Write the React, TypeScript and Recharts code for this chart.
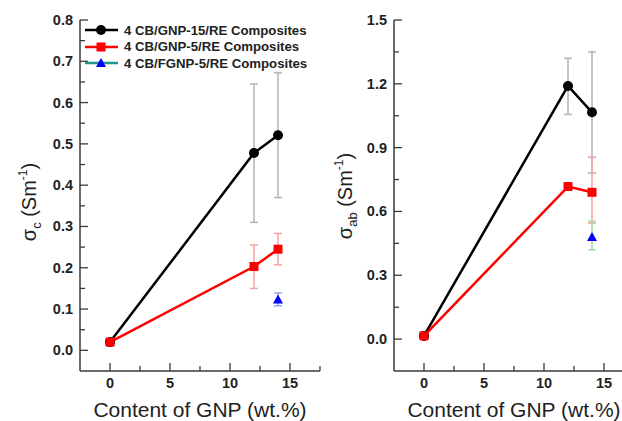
import React from 'react';
import { LineChart, Line, XAxis, YAxis, ErrorBar, Legend } from 'recharts';

// x positions (GNP content, wt.%)
const gnpContent = [0, 12, 14];
const fgnpContent = [14];

// left panel: sigma_c (S/m)
const sigmaC_GNP15 = [0.02, 0.478, 0.521];
const sigmaC_GNP15_low = [0.02, 0.31, 0.37];
const sigmaC_GNP15_high = [0.02, 0.645, 0.672];
const sigmaC_GNP5 = [0.02, 0.203, 0.245];
const sigmaC_GNP5_low = [0.02, 0.15, 0.207];
const sigmaC_GNP5_high = [0.02, 0.255, 0.283];
const sigmaC_FGNP5 = [0.123];
const sigmaC_FGNP5_low = [0.108];
const sigmaC_FGNP5_high = [0.139];

// right panel: sigma_ab (S/m)
const sigmaAb_GNP15 = [0.015, 1.19, 1.066];
const sigmaAb_GNP15_low = [0.015, 1.056, 0.78];
const sigmaAb_GNP15_high = [0.015, 1.32, 1.35];
const sigmaAb_GNP5 = [0.015, 0.717, 0.69];
const sigmaAb_GNP5_low = [0.015, 0.708, 0.545];
const sigmaAb_GNP5_high = [0.015, 0.726, 0.855];
const sigmaAb_FGNP5 = [0.48];
const sigmaAb_FGNP5_low = [0.42];
const sigmaAb_FGNP5_high = [0.553];

// ticks
const xTicks = [0, 2.5, 5, 7.5, 10, 12.5, 15, 17.5];
const xTickLabels = [0, 5, 10, 15];
const leftYTicks = [0, 0.05, 0.1, 0.15, 0.2, 0.25, 0.3, 0.35, 0.4, 0.45, 0.5, 0.55, 0.6, 0.65, 0.7, 0.75, 0.8];
const leftYTickLabels = [0, 0.1, 0.2, 0.3, 0.4, 0.5, 0.6, 0.7, 0.8];
const rightYTicks = [0, 0.15, 0.3, 0.45, 0.6, 0.75, 0.9, 1.05, 1.2, 1.35, 1.5];
const rightYTickLabels = [0, 0.3, 0.6, 0.9, 1.2, 1.5];

const seriesNames = ['4 CB/GNP-15/RE Composites', '4 CB/GNP-5/RE Composites', '4 CB/FGNP-5/RE Composites'];

const FONT = '"Liberation Sans", Arial, Helvetica, sans-serif';
const AXIS = '#3a3a3a';

const toRows = (xs: number[], ys: number[], lo: number[], hi: number[]) =>
    xs.map((x, i) => ({ x, y: ys[i], err: [ys[i] - lo[i], hi[i] - ys[i]] }));

const isLabel = (labels: number[], v: number) => labels.some(l => Math.abs(l - v) < 1e-9);

const circleDot = (p: any) => <circle key={p.key} cx={p.cx} cy={p.cy} r={5} fill="#000" />;
const squareDot = (p: any) => <rect key={p.key} x={p.cx - 4.5} y={p.cy - 4.5} width={9} height={9} fill="#ff0000" />;
const triangleDot = (p: any) => (
    <polygon key={p.key} points={`${p.cx},${p.cy - 5} ${p.cx - 5},${p.cy + 4} ${p.cx + 5},${p.cy + 4}`} fill="#0000ff" />
);

const makeYTick = (labels: number[]) => (props: any) => {
    const { x, y, payload } = props;
    const major = isLabel(labels, payload.value);
    return (
        <g>
            <line x1={x} x2={x + (major ? 8 : 5)} y1={y} y2={y} stroke={AXIS} strokeWidth={1.3} />
            {major && (
                <text x={x - 7} y={y} dy={5} textAnchor="end" fontSize={14.5} fontWeight="bold" fill="#222" fontFamily={FONT}>
                    {payload.value.toFixed(1)}
                </text>
            )}
        </g>
    );
};

const XTick = (props: any) => {
    const { x, y, payload } = props;
    const major = isLabel(xTickLabels, payload.value);
    return (
        <g>
            <line x1={x} x2={x} y1={y} y2={y - (major ? 8 : 5)} stroke={AXIS} strokeWidth={1.3} />
            {major && (
                <text x={x} y={y + 17} textAnchor="middle" fontSize={14.5} fontWeight="bold" fill="#222" fontFamily={FONT}>
                    {payload.value}
                </text>
            )}
        </g>
    );
};

const LegendBox = () => {
    const icons = [
        { stroke: '#000', dot: <circle cx={16} cy={6} r={5} fill="#000" /> },
        { stroke: '#ff0000', dot: <rect x={11.5} y={1.5} width={9} height={9} fill="#ff0000" /> },
        { stroke: '#1f9585', dot: <polygon points="16,1 11,10 21,10" fill="#0000ff" /> },
    ];
    return (
        <div style={{ fontFamily: FONT }}>
            {seriesNames.map((name, i) => (
                <div key={name} style={{ display: 'flex', alignItems: 'center', height: 16.5 }}>
                    <svg width={33} height={12} style={{ display: 'block' }}>
                        <line x1={0} x2={33} y1={6} y2={6} stroke={icons[i].stroke} strokeWidth={2.5} />
                        {icons[i].dot}
                    </svg>
                    <span style={{ marginLeft: 6, fontSize: 13.2, fontWeight: 'bold', color: '#222', whiteSpace: 'nowrap' }}>{name}</span>
                </div>
            ))}
        </div>
    );
};

const xTitle = (cx: number) => () => (
    <text x={cx} y={417} textAnchor="middle" fontSize={21} fill="#222" fontFamily={FONT}>
        Content of GNP (wt.%)
    </text>
);

const yTitle = (sub: string, cx: number, cy: number) => () => (
    <text x={cx} y={cy} transform={`rotate(-90, ${cx}, ${cy})`} textAnchor="middle" fontSize={20} fill="#222" fontFamily={FONT}>
        <tspan>σ</tspan>
        <tspan fontSize={13} dy={5}>{sub}</tspan>
        <tspan dy={-5}> (Sm</tspan>
        <tspan fontSize={12} dy={-9}>-1</tspan>
        <tspan dy={9}>)</tspan>
    </text>
);

type PanelProps = {
    left: number;
    yDomain: [number, number];
    yTicks: number[];
    yLabels: number[];
    s15: any[];
    s5: any[];
    sF: any[];
    fErrColor: string;
    sub: string;
    titleX: number;
    titleY: number;
    legend?: boolean;
};

const Panel: React.FC<PanelProps> = ({ left, yDomain, yTicks, yLabels, s15, s5, sF, fErrColor, sub, titleX, titleY, legend }) => (
    <div style={{ position: 'absolute', left, top: 0 }}>
        <LineChart width={330} height={421} margin={{ top: 20, right: 10, left: 0, bottom: 0 }}>
            <XAxis
                dataKey="x"
                type="number"
                domain={[-2.5, 17.5]}
                ticks={xTicks}
                interval={0}
                allowDataOverflow
                height={50}
                tickSize={0}
                tickMargin={0}
                tickLine={false}
                tick={<XTick />}
                axisLine={{ stroke: AXIS, strokeWidth: 1.5 }}
                label={xTitle(200)}
            />
            <YAxis
                type="number"
                domain={yDomain}
                ticks={yTicks}
                interval={0}
                allowDataOverflow
                width={80}
                tickSize={0}
                tickMargin={0}
                tickLine={false}
                tick={makeYTick(yLabels)}
                axisLine={{ stroke: AXIS, strokeWidth: 1.5 }}
                label={yTitle(sub, titleX, titleY)}
            />
            {legend && (
                <Legend
                    layout="vertical"
                    align="center"
                    verticalAlign="middle"
                    content={() => <LegendBox />}
                    wrapperStyle={{ top: 22, left: 85, width: 240, height: 50 }}
                />
            )}
            <Line data={s15} dataKey="y" stroke="#000" strokeWidth={2.5} dot={circleDot} activeDot={false} isAnimationActive={false}>
                <ErrorBar dataKey="err" direction="y" width={4} strokeWidth={1.5} stroke="#b3b3b3" />
            </Line>
            <Line data={s5} dataKey="y" stroke="#ff0000" strokeWidth={2.5} dot={squareDot} activeDot={false} isAnimationActive={false}>
                <ErrorBar dataKey="err" direction="y" width={4} strokeWidth={1.5} stroke="#f5a3a3" />
            </Line>
            <Line data={sF} dataKey="y" stroke="#1f9585" strokeWidth={2.5} dot={triangleDot} activeDot={false} isAnimationActive={false}>
                <ErrorBar dataKey="err" direction="y" width={4} strokeWidth={1.5} stroke={fErrColor} />
            </Line>
        </LineChart>
    </div>
);

export default function App() {
    return (
        <div style={{ position: 'absolute', left: 0, top: 0, width: 622, height: 421, overflow: 'hidden', background: '#fff', fontFamily: FONT }}>
            <Panel
                left={0}
                yDomain={[-0.05, 0.8]}
                yTicks={leftYTicks}
                yLabels={leftYTickLabels}
                s15={toRows(gnpContent, sigmaC_GNP15, sigmaC_GNP15_low, sigmaC_GNP15_high)}
                s5={toRows(gnpContent, sigmaC_GNP5, sigmaC_GNP5_low, sigmaC_GNP5_high)}
                sF={toRows(fgnpContent, sigmaC_FGNP5, sigmaC_FGNP5_low, sigmaC_FGNP5_high)}
                fErrColor="#9aa6f0"
                sub="c"
                titleX={36}
                titleY={202}
                legend
            />
            <Panel
                left={314}
                yDomain={[-0.15, 1.5]}
                yTicks={rightYTicks}
                yLabels={rightYTickLabels}
                s15={toRows(gnpContent, sigmaAb_GNP15, sigmaAb_GNP15_low, sigmaAb_GNP15_high)}
                s5={toRows(gnpContent, sigmaAb_GNP5, sigmaAb_GNP5_low, sigmaAb_GNP5_high)}
                sF={toRows(fgnpContent, sigmaAb_FGNP5, sigmaAb_FGNP5_low, sigmaAb_FGNP5_high)}
                fErrColor="#a3d9a3"
                sub="ab"
                titleX={38}
                titleY={196}
            />
        </div>
    );
}
